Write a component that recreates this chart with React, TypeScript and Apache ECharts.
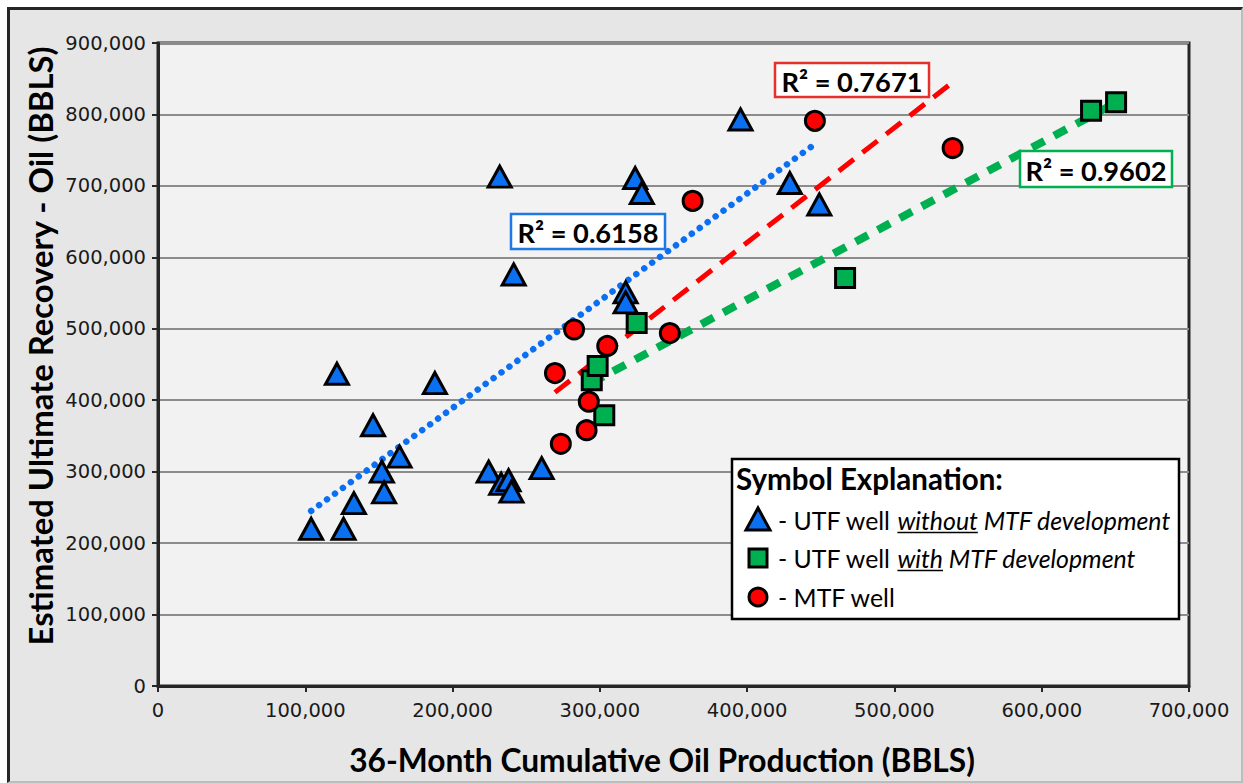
import React, { useEffect, useRef } from "react";
import * as echarts from "echarts";

// ---------- data ----------
const utfWithout: [number, number][] = [
  [104000, 220000], [126000, 220000], [133000, 256000], [152000, 300000],
  [153500, 271000], [164000, 321000], [146000, 365000], [121500, 437000],
  [188000, 424000], [224500, 300000], [233000, 283000], [238000, 288000],
  [240000, 272000], [260500, 305000], [232000, 713000], [241500, 576000],
  [317500, 551000], [317500, 537000], [324000, 711000], [328500, 690000],
  [395500, 793000], [429000, 704000], [449000, 674000],
];
const utfWith: [number, number][] = [
  [294500, 428000], [298500, 448000], [303000, 379000], [325000, 508000],
  [466500, 571000], [633500, 805000], [650500, 817000],
];
const mtfWells: [number, number][] = [
  [269500, 438000], [273500, 339000], [282500, 499000], [291000, 358000],
  [292500, 398000], [305000, 476000], [347500, 494000], [363000, 679000],
  [446000, 791000], [539500, 753000],
];
const trendUtfWithout: [number, number][] = [[104000, 245000], [445000, 757000]];
const trendMtf: [number, number][] = [[269500, 411000], [539500, 845000]];
const trendUtfWith: [number, number][] = [[294000, 424000], [650000, 816000]];
const r2Texts = ["R\u00B2 = 0.6158", "R\u00B2 = 0.7671", "R\u00B2 = 0.9602"];
const xTitle = "36-Month Cumulative Oil Production (BBLS)";
const yTitle = "Estimated Ultimate Recovery - Oil (BBLS)";
const legendTitle = "Symbol Explanation:";
const legendItems = [
  ["- UTF well ", "without", " MTF development"],
  ["- UTF well ", "with", " MTF development"],
  ["- MTF well", "", ""],
];

const BLUE = "#0b6ff2";
const RED = "#ff0000";
const GREEN = "#00b050";
const FAM = "Lato";

export default function App() {
  const ref = useRef<HTMLDivElement>(null);
  useEffect(() => {
    const chart = echarts.init(ref.current!, null, { renderer: "svg" });
    const cv = document.createElement("canvas").getContext("2d")!;
    const measure = (t: string, size: number, weight: string, style: string) => {
      cv.font = `${style} ${weight} ${size}px "${FAM}"`;
      return cv.measureText(t).width;
    };
    const fit = (t: string, target: number, weight: string, style = "normal") =>
      (100 * target) / measure(t, 100, weight, style);

    const r2Size = fit(r2Texts[0], 141, "bold");
    const xTitleSize = fit(xTitle, 626, "bold");
    const yTitleSize = fit(yTitle, 600, "bold");
    const legTitleSize = fit(legendTitle, 267, "bold");
    const item1W100 =
      measure(legendItems[0][0], 100, "normal", "normal") +
      measure(legendItems[0][1], 100, "normal", "italic") +
      measure(legendItems[0][2], 100, "normal", "italic");
    const itemSize = (100 * 393) / item1W100;

    const txt = (
      x: number, y: number, text: string, size: number, weight: string,
      style: string, align: string, extra: any = {}
    ) => ({
      type: "text", x, y, z: 100, silent: true, ...extra,
      style: {
        text, fontSize: size, fontWeight: weight, fontStyle: style, fontFamily: FAM,
        fill: "#000", textFill: "#000",
        align, textAlign: align, verticalAlign: "middle", textVerticalAlign: "middle",
      },
    });

    const r2Box = (x: number, y: number, w: number, h: number, color: string, text: string) => [
      { type: "rect", z: 99, silent: true, shape: { x, y, width: w, height: h },
        style: { fill: "#fff", stroke: color, lineWidth: 2.5 } },
      txt(x + w / 2, y + h / 2 + 1, text, r2Size, "bold", "normal", "center"),
    ];

    const graphics: any[] = [];
    graphics.push(...r2Box(511, 214, 154, 35, "#1f78e6", r2Texts[0]));
    graphics.push(...r2Box(775, 63, 154, 34, "#e8302a", r2Texts[1]));
    graphics.push(...r2Box(1020, 151, 152, 36, GREEN, r2Texts[2]));

    // axis titles
    graphics.push(txt(662, 760, xTitle, xTitleSize, "bold", "normal", "center"));
    graphics.push(txt(40, 346, yTitle, yTitleSize, "bold", "normal", "center", { rotation: Math.PI / 2 }));

    // legend box
    graphics.push({ type: "rect", z: 98, silent: true, shape: { x: 732, y: 459, width: 447, height: 160 },
      style: { fill: "#fff", stroke: "#000", lineWidth: 2.5 } });
    graphics.push(txt(736, 478, legendTitle, legTitleSize, "bold", "normal", "left"));
    const rowsY = [520, 558, 597];
    const mx = 758;
    graphics.push({ type: "polygon", z: 100, silent: true,
      shape: { points: [[mx, rowsY[0] - 12], [mx + 12, rowsY[0] + 10], [mx - 12, rowsY[0] + 10]] },
      style: { fill: BLUE, stroke: "#000", lineWidth: 3, lineJoin: "miter" } });
    graphics.push({ type: "rect", z: 100, silent: true,
      shape: { x: mx - 9, y: rowsY[1] - 9, width: 18, height: 18 },
      style: { fill: GREEN, stroke: "#000", lineWidth: 3 } });
    graphics.push({ type: "circle", z: 100, silent: true,
      shape: { cx: mx, cy: rowsY[2], r: 9 },
      style: { fill: RED, stroke: "#000", lineWidth: 3 } });
    legendItems.forEach((parts, i) => {
      let x = 778;
      const y = rowsY[i];
      graphics.push(txt(x, y, parts[0], itemSize, "normal", "normal", "left"));
      x += measure(parts[0], itemSize, "normal", "normal");
      if (parts[1]) {
        const w = measure(parts[1], itemSize, "normal", "italic");
        graphics.push(txt(x, y, parts[1], itemSize, "normal", "italic", "left"));
        graphics.push({ type: "line", z: 100, silent: true,
          shape: { x1: x, y1: y + itemSize * 0.5, x2: x + w, y2: y + itemSize * 0.5 },
          style: { stroke: "#000", lineWidth: 1.5 } });
        x += w;
      }
      if (parts[2]) graphics.push(txt(x, y, parts[2], itemSize, "normal", "italic", "left"));
    });

    const tickLabel = {
      fontFamily: "DejaVu Sans", fontSize: 19.5, color: "#1a1a1a",
      formatter: (v: number) => v.toLocaleString("en-US"),
    };

    const scatterBase = { type: "scatter", z: 5, silent: true };
    const option: any = {
      animation: false,
      grid: {
        left: 158, top: 43, right: 1243 - 1189, bottom: 783 - 686,
        show: true, backgroundColor: "#f2f2f2", borderColor: "#262626", borderWidth: 3,
      },
      xAxis: {
        type: "value", min: 0, max: 700000, interval: 100000,
        axisLine: { show: true, lineStyle: { color: "#262626", width: 3 } },
        axisTick: { show: true, length: 6, lineStyle: { color: "#262626", width: 2 } },
        axisLabel: { ...tickLabel, margin: 14 },
        splitLine: { show: false },
      },
      yAxis: {
        type: "value", min: 0, max: 900000, interval: 100000,
        axisLine: { show: true, lineStyle: { color: "#262626", width: 3 } },
        axisTick: { show: true, length: 6, lineStyle: { color: "#262626", width: 2 } },
        axisLabel: { ...tickLabel, margin: 12 },
        splitLine: { show: true, lineStyle: { color: "#8c8c8c", width: 2 } },
      },
      series: [
        { type: "line", data: trendUtfWithout, symbol: "none", z: 2, silent: true,
          lineStyle: { color: BLUE, width: 6.5, type: [0.01, 9.8], cap: "round" } },
        { type: "line", data: trendMtf, symbol: "none", z: 2, silent: true,
          lineStyle: { color: RED, width: 5, type: [19, 11], cap: "butt" } },
        { type: "line", data: trendUtfWith, symbol: "none", z: 2, silent: true,
          lineStyle: { color: GREEN, width: 8, type: [14, 11], cap: "butt" } },
        { ...scatterBase, data: utfWithout, symbol: "triangle", symbolSize: [23, 21],
          itemStyle: { color: BLUE, borderColor: "#000", borderWidth: 3, opacity: 1 } },
        { ...scatterBase, data: utfWith, symbol: "rect", symbolSize: 19,
          itemStyle: { color: GREEN, borderColor: "#000", borderWidth: 3, opacity: 1 } },
        { ...scatterBase, data: mtfWells, symbol: "circle", symbolSize: 19,
          itemStyle: { color: RED, borderColor: "#000", borderWidth: 3, opacity: 1 } },
      ],
      graphic: { elements: graphics },
    };
    chart.setOption(option);
    return () => chart.dispose();
  }, []);

  return (
    <div style={{ position: "absolute", left: 0, top: 0, width: 1243, height: 783, overflow: "hidden", background: "#fff" }}>
      <div style={{
        position: "absolute", left: 7, top: 7, width: 1236, height: 776, boxSizing: "border-box",
        background: "#e6e6e6", borderTop: "3px solid #262626", borderLeft: "3px solid #262626",
        borderRight: "2px solid #bdbdbd", borderBottom: "2px solid #bdbdbd",
      }} />
      <div ref={ref} style={{ position: "absolute", left: 0, top: 0, width: 1243, height: 783 }} />
    </div>
  );
}
